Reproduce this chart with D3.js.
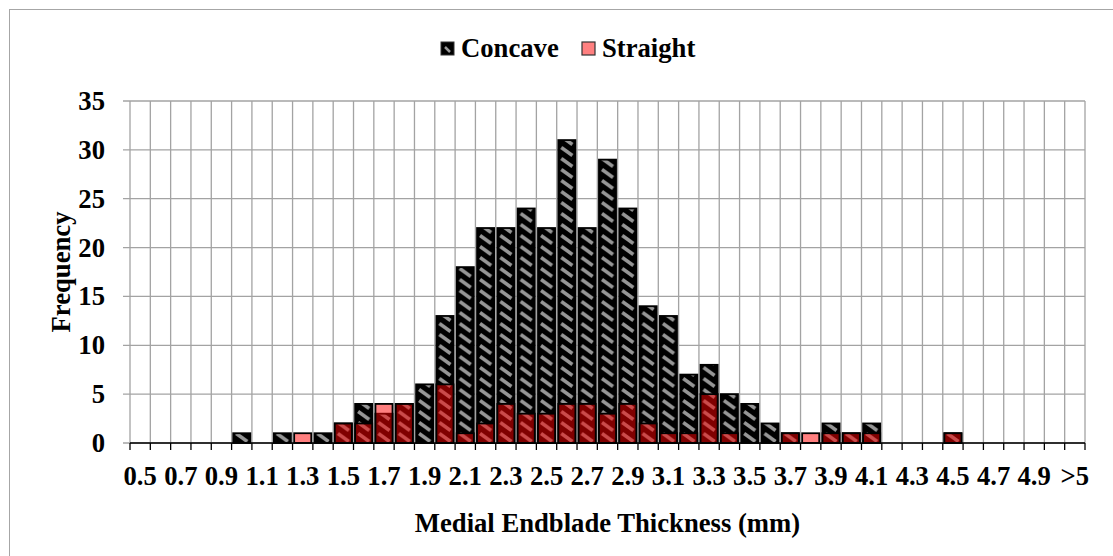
<!DOCTYPE html>
<html>
<head>
<meta charset="utf-8">
<script src="https://cdn.jsdelivr.net/npm/d3@7"></script>
<style>
  html, body { margin: 0; padding: 0; background: #fff; }
  svg { display: block; }
  svg text { font-family: "Liberation Serif", "Times New Roman", serif; font-weight: bold; fill: #000; }
</style>
</head>
<body>
<div id="chart"></div>
<script>
// Thickness bins (mm)
const categories = ["0.5","0.6","0.7","0.8","0.9","1.0","1.1","1.2","1.3","1.4",
  "1.5","1.6","1.7","1.8","1.9","2.0","2.1","2.2","2.3","2.4",
  "2.5","2.6","2.7","2.8","2.9","3.0","3.1","3.2","3.3","3.4",
  "3.5","3.6","3.7","3.8","3.9","4.0","4.1","4.2","4.3","4.4",
  "4.5","4.6","4.7","4.8","4.9","5.0",">5"];

// Frequencies per bin
const concave = [0,0,0,0,0,1,0,1,0,1,
  2,4,3,4,6,13,18,22,22,24,
  22,31,22,29,24,14,13,7,8,5,
  4,2,1,0,2,1,2,0,0,0,
  1,0,0,0,0,0,0];
const straight = [0,0,0,0,0,0,0,0,1,0,
  2,2,4,4,0,6,1,2,4,3,
  3,4,4,3,4,2,1,1,5,1,
  0,0,1,1,1,1,1,0,0,0,
  1,0,0,0,0,0,0];

// Axis labels
const xTickLabels = ["0.5","0.7","0.9","1.1","1.3","1.5","1.7","1.9","2.1","2.3",
  "2.5","2.7","2.9","3.1","3.3","3.5","3.7","3.9","4.1","4.3","4.5","4.7","4.9",">5"];
const yTicks = [0,5,10,15,20,25,30,35];
const seriesNames = ["Concave","Straight"];

const W = 1113, H = 556;
const plot = { left: 130, right: 1085, top: 101, bottom: 443 };
const fontSize = 26.67;
const fontFamily = "'Liberation Serif', 'Times New Roman', serif";
const gridColor = "#a3a3a3";

const svg = d3.select("#chart").append("svg")
  .attr("width", W).attr("height", H);

// outer chart frame
svg.append("rect")
  .attr("x", 9.5).attr("y", 9.5)
  .attr("width", W + 20).attr("height", H + 20)
  .attr("fill", "none").attr("stroke", "#a6a6a6").attr("stroke-width", 1);

const pad = 0.16;
const x = d3.scaleBand().domain(categories)
  .range([plot.left, plot.right])
  .paddingInner(pad).paddingOuter(pad / 2);
const y = d3.scaleLinear().domain([0, 35]).range([plot.bottom, plot.top]);

const step = x.step();
const bw = x.bandwidth();
const boundaries = categories.map(c => x(c) - step * pad / 2).concat([plot.right]);

// hatch pattern for the concave series, aligned with every band
const tileH = 11;
const defs = svg.append("defs");
const hatch = defs.append("pattern")
  .attr("id", "concaveHatch")
  .attr("patternUnits", "userSpaceOnUse")
  .attr("x", x(categories[0])).attr("y", y(0))
  .attr("width", step).attr("height", tileH);
hatch.append("rect").attr("width", step).attr("height", tileH).attr("fill", "#000");
hatch.append("line")
  .attr("x1", 3).attr("y1", 1.5)
  .attr("x2", bw - 3).attr("y2", tileH - 1.5)
  .attr("stroke", "#969696").attr("stroke-width", 3.4);

// gridlines
const grid = svg.append("g");
grid.selectAll("line.h").data(yTicks).join("line")
  .attr("x1", plot.left - 7).attr("x2", plot.right)
  .attr("y1", d => y(d)).attr("y2", d => y(d))
  .attr("stroke", gridColor).attr("stroke-width", 1.3);
grid.selectAll("line.v").data(boundaries).join("line")
  .attr("x1", d => d).attr("x2", d => d)
  .attr("y1", y(35)).attr("y2", y(0))
  .attr("stroke", gridColor).attr("stroke-width", 1.3);

// concave bars
svg.append("g").selectAll("rect").data(categories.map((c, i) => ({ c, v: concave[i] })).filter(d => d.v > 0))
  .join("rect")
  .attr("x", d => x(d.c)).attr("width", bw)
  .attr("y", d => y(d.v)).attr("height", d => y(0) - y(d.v))
  .attr("fill", "url(#concaveHatch)")
  .attr("stroke", "#000").attr("stroke-width", 1.8);

// straight bars, translucent, drawn in front
svg.append("g").selectAll("rect").data(categories.map((c, i) => ({ c, v: straight[i] })).filter(d => d.v > 0))
  .join("rect")
  .attr("x", d => x(d.c)).attr("width", bw)
  .attr("y", d => y(d.v)).attr("height", d => y(0) - y(d.v))
  .attr("fill", "rgba(255,0,0,0.5)")
  .attr("stroke", "#000").attr("stroke-width", 1.8);

// x axis line and ticks
const xa = svg.append("g");
xa.append("line")
  .attr("x1", plot.left).attr("x2", plot.right)
  .attr("y1", y(0)).attr("y2", y(0))
  .attr("stroke", "#000").attr("stroke-width", 1.5);
xa.selectAll("line.t").data(boundaries).join("line")
  .attr("x1", d => d).attr("x2", d => d)
  .attr("y1", y(0)).attr("y2", y(0) + 7)
  .attr("stroke", "#000").attr("stroke-width", 1.3);

// x tick labels
const xAxis = svg.append("g")
  .attr("transform", `translate(0,${y(0)})`)
  .call(d3.axisBottom(x).tickValues(xTickLabels).tickSize(0).tickPadding(0));
xAxis.select(".domain").remove();
xAxis.selectAll("text")
  .attr("dy", null).attr("y", 42)
  .attr("font-size", fontSize).attr("font-family", fontFamily)
  .attr("font-weight", "bold").attr("fill", "#000");

// y tick labels
const yAxis = svg.append("g")
  .attr("transform", `translate(${plot.left},0)`)
  .call(d3.axisLeft(y).tickValues(yTicks).tickSize(0).tickPadding(25));
yAxis.select(".domain").remove();
yAxis.selectAll("text")
  .attr("font-size", fontSize).attr("font-family", fontFamily)
  .attr("font-weight", "bold").attr("fill", "#000");

// axis titles
svg.append("text")
  .attr("x", (plot.left + plot.right) / 2).attr("y", 532)
  .attr("text-anchor", "middle")
  .attr("font-size", fontSize).attr("font-family", fontFamily).attr("font-weight", "bold")
  .text("Medial Endblade Thickness (mm)");
svg.append("text")
  .attr("transform", `translate(70,${(plot.top + plot.bottom) / 2}) rotate(-90)`)
  .attr("text-anchor", "middle")
  .attr("font-size", fontSize).attr("font-family", fontFamily).attr("font-weight", "bold")
  .text("Frequency");

// legend
const legend = svg.append("g");
const lc = legend.append("g").attr("transform", "translate(441,42)");
lc.append("rect").attr("width", 13).attr("height", 13).attr("fill", "#000")
  .attr("stroke", "#333").attr("stroke-width", 1);
lc.append("line").attr("x1", 4).attr("y1", 5).attr("x2", 9).attr("y2", 10)
  .attr("stroke", "#9a9a9a").attr("stroke-width", 2.5);
legend.append("text").attr("x", 461).attr("y", 57)
  .attr("font-size", fontSize).attr("font-family", fontFamily).attr("font-weight", "bold")
  .text(seriesNames[0]);
const ls = legend.append("g").attr("transform", "translate(582,42)");
ls.append("rect").attr("width", 13).attr("height", 13).attr("fill", "#ff8080")
  .attr("stroke", "#333").attr("stroke-width", 1.2);
legend.append("text").attr("x", 602).attr("y", 57)
  .attr("font-size", fontSize).attr("font-family", fontFamily).attr("font-weight", "bold")
  .text(seriesNames[1]);
</script>
</body>
</html>
